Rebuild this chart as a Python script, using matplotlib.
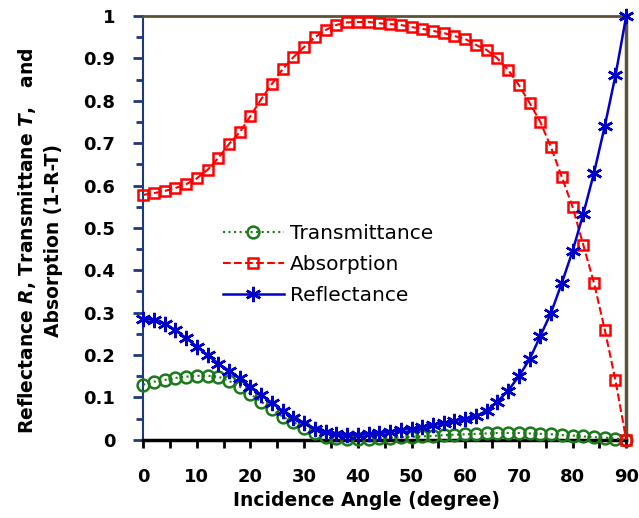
import matplotlib
matplotlib.use('Agg')
import matplotlib.pyplot as plt
from matplotlib.ticker import MultipleLocator, FormatStrFormatter

plt.rcParams['font.family'] = ['DejaVu Sans']

angle = list(range(0, 91, 2))

transmittance = [0.130, 0.137, 0.141, 0.146, 0.149, 0.151, 0.151, 0.149, 0.139, 0.125,
                 0.108, 0.090, 0.073, 0.054, 0.042, 0.028, 0.016, 0.007, 0.004, 0.003,
                 0.003, 0.003, 0.004, 0.005, 0.006, 0.007, 0.008, 0.009, 0.011, 0.012,
                 0.013, 0.014, 0.015, 0.016, 0.016, 0.016, 0.015, 0.014, 0.013, 0.011,
                 0.010, 0.008, 0.006, 0.005, 0.003, 0.000]

absorption = [0.578, 0.582, 0.587, 0.594, 0.603, 0.617, 0.637, 0.665, 0.698, 0.726,
              0.764, 0.804, 0.840, 0.875, 0.903, 0.927, 0.950, 0.967, 0.979, 0.985,
              0.986, 0.986, 0.983, 0.981, 0.979, 0.974, 0.970, 0.965, 0.960, 0.953,
              0.946, 0.932, 0.920, 0.900, 0.873, 0.837, 0.795, 0.750, 0.690, 0.620,
              0.550, 0.460, 0.370, 0.260, 0.140, 0.000]

reflectance = [0.285, 0.283, 0.274, 0.259, 0.240, 0.220, 0.200, 0.180, 0.163, 0.145,
               0.125, 0.106, 0.087, 0.068, 0.052, 0.040, 0.026, 0.018, 0.014, 0.012,
               0.012, 0.014, 0.016, 0.019, 0.023, 0.026, 0.030, 0.034, 0.040, 0.044,
               0.050, 0.056, 0.068, 0.090, 0.116, 0.150, 0.190, 0.245, 0.300, 0.370,
               0.445, 0.533, 0.630, 0.740, 0.860, 1.000]

fig = plt.figure(figsize=(6.39, 5.18), dpi=100)
ax = fig.add_axes([0.224, 0.151, 0.756, 0.818])

ax.plot(angle, transmittance, ':', color='#1a7a1a', lw=1.5, marker='o', ms=8.5,
        mfc='none', mec='#1a7a1a', mew=1.8, label='Transmittance', clip_on=False, zorder=3)
ax.plot(angle, absorption, '--', color='#ff0000', lw=1.5, marker='s', ms=7.5,
        mfc='none', mec='#ff0000', mew=1.8, label='Absorption', clip_on=False, zorder=4)
ax.plot(angle, reflectance, '-', color='#0000cc', lw=1.8, marker=(6, 2, 0), ms=11,
        mec='#0000cc', mew=1.8, label='Reflectance', clip_on=False, zorder=5)

ax.set_xlim(0, 90)
ax.set_ylim(0, 1)
ax.xaxis.set_major_locator(MultipleLocator(10))
ax.xaxis.set_minor_locator(MultipleLocator(5))
ax.yaxis.set_major_locator(MultipleLocator(0.1))
ax.yaxis.set_minor_locator(MultipleLocator(0.05))
ax.yaxis.set_major_formatter(FormatStrFormatter('%g'))

ax.tick_params(axis='y', which='both', direction='out', color='#1f3a7a', width=2)
ax.tick_params(axis='y', which='major', length=7, pad=13)
ax.tick_params(axis='y', which='minor', length=5)
ax.tick_params(axis='x', which='both', direction='out', color='black', width=2, length=6)
ax.tick_params(axis='x', which='major', pad=14)
for lab in ax.get_xticklabels() + ax.get_yticklabels():
    lab.set_fontsize(13)
    lab.set_fontweight('bold')

ax.spines['left'].set_color('#1f3a7a')
ax.spines['left'].set_linewidth(1.5)
ax.spines['bottom'].set_color('black')
ax.spines['bottom'].set_linewidth(2.5)
ax.spines['top'].set_color('#5b5236')
ax.spines['top'].set_linewidth(2)
ax.spines['right'].set_color('#5b5236')
ax.spines['right'].set_linewidth(2.5)

ax.set_xlabel('Incidence Angle (degree)', fontsize=13.5, fontweight='bold')
ax.xaxis.set_label_coords(0.462, -0.122)
ax.set_ylabel('Reflectance $\\mathbfit{R}$, Transmittane $\\mathbfit{T}$,   and\nAbsorption (1-R-T)',
              fontsize=13.5, fontweight='bold', linespacing=1.45)
ax.yaxis.set_label_coords(-0.165, 0.47)

ax.legend(loc='upper left', bbox_to_anchor=(0.128, 0.553), frameon=False, fontsize=14.5,
          handlelength=3.0, handletextpad=0.3, labelspacing=0.6)

fig.savefig('out.png', dpi=100)
